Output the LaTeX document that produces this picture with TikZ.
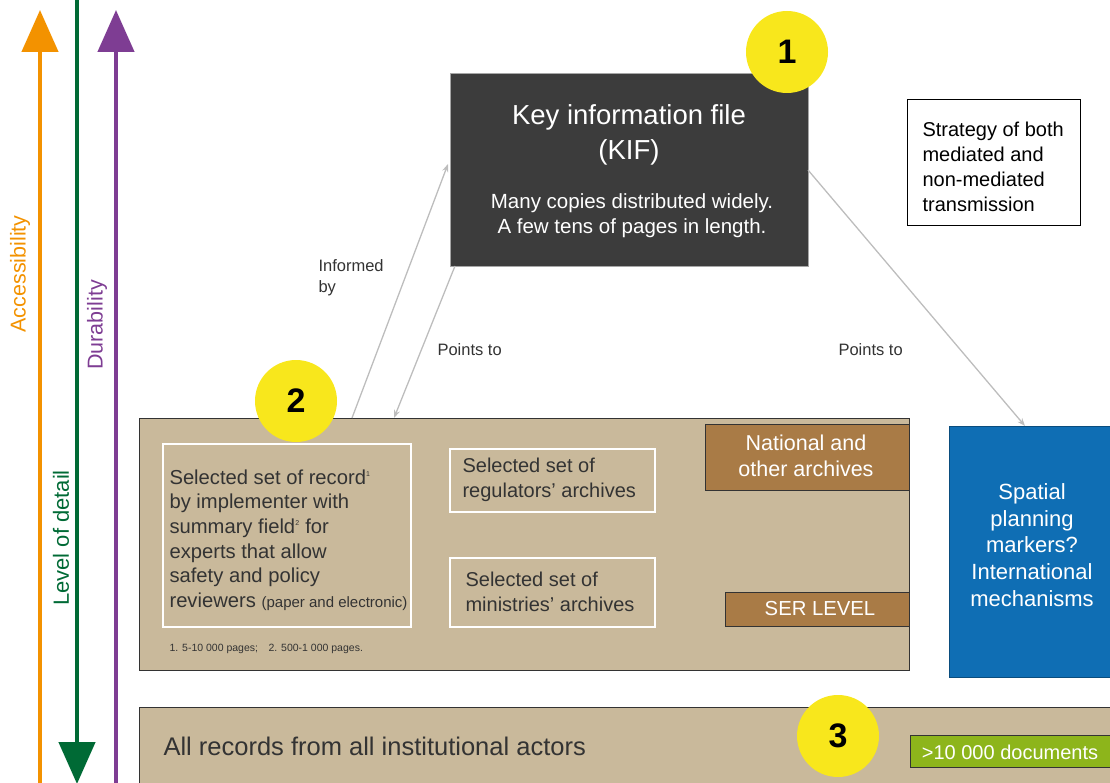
\documentclass[tikz,border=0pt]{standalone}
\usepackage{fontspec}
\setmainfont{Liberation Sans}
\usetikzlibrary{arrows.meta}
\definecolor{orangeA}{HTML}{F39200}
\definecolor{greenA}{HTML}{006A35}
\definecolor{purpleA}{HTML}{7E3D93}
\definecolor{tanC}{HTML}{C9B99B}
\definecolor{brownC}{HTML}{A97B46}
\definecolor{blueC}{HTML}{0F6EB4}
\definecolor{limeC}{HTML}{8DB51B}
\definecolor{yellowC}{HTML}{F8E71C}
\definecolor{kifC}{HTML}{3C3C3C}
\definecolor{txtC}{HTML}{333333}
\definecolor{connC}{HTML}{BDBDBD}
\tikzset{
  boxnw/.style={anchor=north west, inner sep=0pt, outer sep=0pt},
  tanbox/.style={boxnw, fill=tanC, draw=txtC, line width=1pt},
  whitebox/.style={boxnw, draw=white, line width=2pt},
  brownbox/.style={boxnw, fill=brownC, draw=txtC, line width=1pt},
  badge/.style={circle, fill=yellowC, minimum size=82pt, inner sep=0pt, font=\fontsize{34}{34}\selectfont\bfseries, text=black},
  conn/.style={connC, line width=1.3pt, -{Stealth[length=8pt,width=6pt]}},
  axisarrow/.style={line width=4.5pt},
}
\begin{document}
\begin{tikzpicture}[x=1pt,y=-1pt]
\useasboundingbox (0,0) rectangle (1110,783);
\clip (0,0) rectangle (1110,783);

% axes
\coordinate (accB) at (40,790);
\coordinate (accT) at (40,10);
\coordinate (detT) at (77,-5);
\coordinate (detB) at (77,784);
\coordinate (durB) at (116,790);
\coordinate (durT) at (116,10);
\draw[orangeA, axisarrow, -{Triangle[width=36pt,length=42pt]}] (accB) -- (accT);
\draw[greenA, axisarrow, -{Triangle[width=36pt,length=42pt]}] (detT) -- (detB);
\draw[purpleA, axisarrow, -{Triangle[width=36pt,length=42pt]}] (durB) -- (durT);
\node[rotate=90, text=orangeA, font=\fontsize{21.5}{21.5}\selectfont] (accL) at (20,274) {Accessibility};
\node[rotate=90, text=purpleA, font=\fontsize{21.5}{21.5}\selectfont] (durL) at (97,325) {Durability};
\node[rotate=90, text=greenA, font=\fontsize{22}{22}\selectfont] (detL) at (61,538) {Level of detail};

% KIF
\node[boxnw, fill=kifC, draw=gray!70, line width=0.8pt, minimum width=358pt, minimum height=193pt] (kif) at (450,73) {};
\node[text=white, align=center, font=\fontsize{27.5}{35}\selectfont] (kift) at (629,135) {Key information file\\(KIF)};
\node[text=white, align=center, font=\fontsize{20.5}{25}\selectfont] (kifs) at (632,216) {Many copies distributed widely.\\A few tens of pages in length.};
\node[badge] (c1) at (787,52) {1};

% strategy
\node[boxnw, fill=white, draw=black, line width=1pt, minimum width=173pt, minimum height=126pt] (strat) at (907,100) {};
\node[anchor=west, align=left, text=black, font=\fontsize{20}{25}\selectfont] (stratt) at (919,167) {Strategy of both\\mediated and\\non-mediated\\transmission};

% tier 2
\node[tanbox, minimum width=770pt, minimum height=252pt] (tier2) at (139,418) {};
\node[whitebox, minimum width=248pt, minimum height=183pt] (recbox) at (163,444) {};
\node[anchor=west, align=left, text=txtC, font=\fontsize{20.2}{24.6}\selectfont] (rect) at (166,540)
  {Selected set of record\textsuperscript{\fontsize{7}{7}\selectfont 1}\\by implementer with\\summary field\textsuperscript{\fontsize{7}{7}\selectfont 2} for\\experts that allow\\safety and policy\\reviewers {\fontsize{15}{15}\selectfont(paper and electronic)}};
\node[anchor=west, text=txtC, font=\fontsize{10.5}{11}\selectfont] (foot) at (166,649) {1. 5-10 000 pages;\quad 2. 500-1 000 pages.};
\node[whitebox, minimum width=205pt, minimum height=63pt] (regbox) at (450,449) {};
\node[anchor=west, align=left, text=txtC, font=\fontsize{20}{25}\selectfont] (regt) at (459,480) {Selected set of\\regulators' archives};
\node[whitebox, minimum width=205pt, minimum height=69pt] (minbox) at (450,558) {};
\node[anchor=west, align=left, text=txtC, font=\fontsize{20}{25}\selectfont] (mint) at (462,592) {Selected set of\\ministries' archives};
\node[brownbox, minimum width=204pt, minimum height=66pt] (natbox) at (705,424) {};
\node[text=white, align=center, font=\fontsize{21.5}{26}\selectfont] (natt) at (806,456) {National and\\other archives};
\node[brownbox, minimum width=184pt, minimum height=34pt] (serbox) at (725,592) {};
\node[text=white, font=\fontsize{20.3}{20}\selectfont] (sert) at (820,609) {SER LEVEL};
\node[badge] (c2) at (296,401) {2};

% spatial
\node[boxnw, fill=blueC, draw=blueC!70!black, line width=0.8pt, minimum width=175pt, minimum height=251pt] (spat) at (949,426) {};
\node[text=white, align=center, font=\fontsize{22}{26.7}\selectfont] (spatt) at (1032,545) {Spatial\\planning\\markers?\\International\\mechanisms};

% tier 3
\node[tanbox, minimum width=990pt, minimum height=100pt] (tier3) at (139,707) {};
\node[anchor=west, text=txtC, font=\fontsize{25.5}{25.5}\selectfont] (t3t) at (160,746) {All records from all institutional actors};
\node[boxnw, fill=limeC, draw=txtC, line width=1pt, minimum width=210pt, minimum height=32pt] (docs) at (910,735) {};
\node[text=white, font=\fontsize{20}{20}\selectfont] (docst) at (1010,752) {>10 000 documents};
\node[badge] (c3) at (838,736) {3};

% connectors
\coordinate (inf0) at (352,418);
\coordinate (inf1) at (448,164);
\coordinate (pt0) at (455,266);
\coordinate (pt1) at (394,418);
\coordinate (pr0) at (808,170);
\coordinate (pr1) at (1025,426);
\draw[conn] (inf0) -- (inf1);
\draw[conn] (pt0) -- (pt1);
\draw[conn] (pr0) -- (pr1);
\node[anchor=west, align=left, text=txtC, font=\fontsize{16.5}{21}\selectfont] (infL) at (315,278) {Informed\\by};
\node[anchor=west, text=txtC, font=\fontsize{16.5}{16.5}\selectfont] (ptL) at (434,350) {Points to};
\node[anchor=west, text=txtC, font=\fontsize{16.5}{16.5}\selectfont] (prL) at (835,350) {Points to};
\end{tikzpicture}
\end{document}
